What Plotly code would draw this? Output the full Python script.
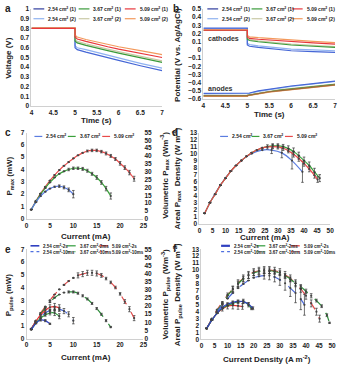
import plotly.graph_objects as go

W, H = 343, 368
FONT = "Liberation Sans"

# ---------------- data ----------------
# panel a: cell voltage vs time
a_time = [4.0, 5.0, 5.0, 5.05, 5.25, 5.5, 5.75, 6.0, 6.5, 7.0]
a_labels = ["2.54 cm<sup>2</sup> (1)", "3.67 cm<sup>2</sup> (1)", "5.09 cm<sup>2</sup> (1)",
            "2.54 cm<sup>2</sup> (2)", "3.67 cm<sup>2</sup> (2)", "5.09 cm<sup>2</sup> (2)"]
a_v_blue1 = [0.80, 0.80, 0.60, 0.58, 0.555, 0.525, 0.495, 0.47, 0.415, 0.365]
a_v_green1 = [0.80, 0.80, 0.67, 0.65, 0.625, 0.595, 0.57, 0.545, 0.495, 0.45]
a_v_red1 = [0.80, 0.80, 0.71, 0.69, 0.665, 0.635, 0.61, 0.585, 0.54, 0.50]
a_v_blue2 = [0.80, 0.80, 0.62, 0.60, 0.58, 0.55, 0.52, 0.495, 0.44, 0.39]
a_v_khaki2 = [0.80, 0.80, 0.685, 0.665, 0.64, 0.61, 0.585, 0.56, 0.51, 0.465]
a_v_orange2 = [0.805, 0.805, 0.73, 0.71, 0.685, 0.66, 0.635, 0.61, 0.57, 0.53]

# panel b: electrode potentials vs time
b_cat_blue1 = [0.265, 0.265, 0.06, 0.045, 0.03, 0.015, 0.0, -0.01, -0.02, -0.03]
b_cat_green1 = [0.24, 0.24, 0.13, 0.115, 0.10, 0.085, 0.07, 0.06, 0.045, 0.03]
b_cat_red1 = [0.24, 0.24, 0.155, 0.14, 0.13, 0.12, 0.11, 0.10, 0.085, 0.07]
b_cat_blue2 = [0.26, 0.26, 0.08, 0.065, 0.05, 0.035, 0.02, 0.01, 0.0, -0.01]
b_cat_khaki2 = [0.24, 0.24, 0.14, 0.125, 0.11, 0.095, 0.08, 0.07, 0.055, 0.04]
b_cat_orange2 = [0.245, 0.245, 0.175, 0.16, 0.15, 0.14, 0.13, 0.12, 0.105, 0.09]
b_an_blue1 = [-0.53, -0.53, -0.53, -0.525, -0.50, -0.48, -0.46, -0.44, -0.41, -0.38]
b_an_green1 = [-0.56, -0.56, -0.555, -0.55, -0.53, -0.51, -0.49, -0.475, -0.445, -0.42]
b_an_red1 = [-0.56, -0.56, -0.555, -0.55, -0.53, -0.51, -0.495, -0.48, -0.45, -0.425]
b_an_blue2 = [-0.535, -0.535, -0.535, -0.53, -0.505, -0.485, -0.465, -0.445, -0.415, -0.385]
b_an_khaki2 = [-0.555, -0.555, -0.55, -0.545, -0.525, -0.505, -0.485, -0.47, -0.44, -0.415]
b_an_orange2 = [-0.565, -0.565, -0.56, -0.555, -0.535, -0.515, -0.50, -0.485, -0.455, -0.43]

# panel c: Pmax vs current
c_labels = ["2.54 cm<sup>2</sup>", "3.67 cm<sup>2</sup>", "5.09 cm<sup>2</sup>"]
c_blue_x = [1, 2, 3, 4, 5, 6, 7, 8, 9, 10]
c_blue_y = [0.75, 1.35, 1.85, 2.2, 2.45, 2.6, 2.65, 2.55, 2.35, 2.0]
c_blue_e = [0, 0, 0, 0, 0, 0.05, 0.1, 0.12, 0.15, 0.3]
c_green_x = list(range(1, 19))
c_green_y = [0.75, 1.4, 2.0, 2.5, 2.95, 3.35, 3.65, 3.85, 4.0, 4.1, 4.1, 4.05, 3.9, 3.65, 3.35, 2.95, 2.45, 1.85]
c_green_e = [0, 0, 0, 0, 0, 0, 0, 0, 0.1, 0.1, 0.1, 0.12, 0.12, 0.12, 0.15, 0.15, 0.18, 0.25]
c_red_x = list(range(1, 24))
c_red_y = [0.75, 1.45, 2.05, 2.6, 3.1, 3.55, 3.95, 4.3, 4.6, 4.9, 5.15, 5.35, 5.5, 5.55, 5.55,
           5.45, 5.3, 5.1, 4.85, 4.5, 4.15, 3.75, 3.25]
c_red_e = [0, 0, 0, 0, 0, 0, 0, 0, 0, 0, 0, 0, 0.08, 0.1, 0.1, 0.1, 0.12, 0.12, 0.12, 0.15, 0.15, 0.18, 0.2]

# panel d: areal Pmax density vs current density
d_blue_x = [2, 4, 8, 12, 16, 20, 24, 27.6, 31.5, 35.4, 39.4]
d_blue_y = [1.5, 3.0, 5.5, 7.5, 9.0, 10.0, 10.5, 10.5, 10.1, 9.0, 7.4]
d_blue_e = [0, 0, 0, 0, 0, 0, 0, 0.5, 0.7, 1.2, 1.5]
d_green_x = [2, 4, 6, 8, 10, 12, 14, 16, 18, 20, 22, 24, 26, 28, 30, 32, 34, 36, 38, 40, 42, 44, 46]
d_green_y = [1.5, 3.0, 4.2, 5.5, 6.5, 7.5, 8.3, 9.0, 9.6, 10.1, 10.5, 10.8, 11.0, 11.1, 11.1, 11.0,
             10.7, 10.3, 9.7, 9.0, 8.3, 7.4, 6.5]
d_green_e = [0, 0, 0, 0, 0, 0, 0, 0, 0, 0, 0, 0, 0, 0.3, 0.3, 0.3, 0.4, 0.5, 0.5, 0.5, 0.5, 0.5, 0.5]
d_red_x = [2, 4, 6, 8, 10, 12, 14, 16, 18, 20, 22, 24, 26, 28, 30, 32, 34, 36, 38, 40, 42, 44, 45.2]
d_red_y = [1.5, 3.0, 4.2, 5.5, 6.5, 7.5, 8.3, 9.0, 9.6, 10.1, 10.5, 10.8, 10.95, 11.0, 10.95, 10.75,
           10.4, 9.9, 9.3, 8.6, 7.8, 6.9, 6.3]
d_red_e = [0, 0, 0, 0, 0, 0, 0, 0, 0, 0, 0, 0, 0.3, 0.3, 0.3, 0.3, 0.3, 0.4, 0.4, 0.4, 0.4, 0.4, 0.4]

# panel e: Ppulse vs current
e_labels = ["2.54 cm<sup>2</sup>-2s", "3.67 cm<sup>2</sup>-2ms", "5.09 cm<sup>2</sup>-2s",
            "2.54 cm<sup>2</sup>-10ms", "3.67 cm<sup>2</sup>-10ms", "5.09 cm<sup>2</sup>-10ms"]
e_b2_x = [1, 2, 3, 4, 5]
e_b2_y = [0.7, 1.2, 1.45, 1.4, 1.15]
e_b2_e = [0, 0.05, 0.08, 0.08, 0.05]
e_g2_x = [1, 2, 3, 4, 5, 6, 7]
e_g2_y = [0.7, 1.2, 1.6, 1.85, 2.0, 2.0, 1.75]
e_g2_e = [0, 0, 0, 0.1, 0.15, 0.2, 0.2]
e_r2_x = [1, 2, 3, 4, 5, 6, 7]
e_r2_y = [0.75, 1.35, 1.85, 2.2, 2.45, 2.5, 2.4]
e_r2_e = [0, 0, 0, 0.1, 0.2, 0.25, 0.25]
e_b10_x = [1, 2, 3, 4, 5, 6, 7, 8, 9, 10]
e_b10_y = [0.75, 1.3, 1.7, 2.0, 2.2, 2.3, 2.3, 2.15, 1.9, 1.4]
e_b10_e = [0, 0, 0, 0, 0.1, 0.15, 0.15, 0.2, 0.2, 0.25]
e_g10_x = list(range(1, 19))
e_g10_y = [0.75, 1.35, 1.9, 2.4, 2.85, 3.2, 3.45, 3.6, 3.65, 3.65, 3.55, 3.35, 3.1, 2.75, 2.35, 1.9, 1.4, 0.9]
e_g10_e = [0, 0, 0, 0, 0, 0, 0, 0, 0.08, 0.08, 0.08, 0.08, 0.08, 0.08, 0.08, 0.08, 0.08, 0.05]
e_r10_x = list(range(1, 24))
e_r10_y = [0.75, 1.4, 2.0, 2.5, 3.0, 3.45, 3.85, 4.2, 4.5, 4.75, 4.95, 5.05, 5.15, 5.15, 5.1, 4.95,
           4.7, 4.4, 4.0, 3.5, 2.9, 2.3, 1.6]
e_r10_e = [0, 0, 0, 0, 0, 0, 0, 0, 0, 0, 0.2, 0.2, 0.2, 0.2, 0.2, 0.15, 0.1, 0.1, 0.1, 0.1, 0.15, 0.2, 0.2]

# panel f: areal Ppulse density vs current density
f_b2_x = [2, 4, 6, 8, 10, 12, 14, 16, 18, 19.7]
f_b2_y = [1.6, 2.8, 3.8, 4.6, 5.1, 5.35, 5.5, 5.45, 5.1, 4.5]
f_b2_e = [0, 0, 0, 0, 0.2, 0.2, 0.2, 0.2, 0.2, 0.2]
f_g2_x = [2, 4, 6, 8, 10, 12, 14, 16, 18, 19.1]
f_g2_y = [1.6, 2.8, 3.8, 4.5, 4.9, 5.2, 5.4, 5.5, 5.0, 4.5]
f_g2_e = [0, 0, 0, 0, 0, 0.2, 0.2, 0.3, 0.3, 0.2]
f_r2_x = [2, 4, 6, 8, 10, 12, 14, 15.7]
f_r2_y = [1.6, 2.8, 3.8, 4.4, 4.8, 4.9, 4.85, 4.75]
f_r2_e = [0, 0, 0, 0.3, 0.4, 0.5, 0.5, 0.4]
f_b10_x = [2, 4, 6, 8, 10, 12, 14, 16, 18, 20, 22, 24, 26, 28, 30, 32, 34, 36, 38, 39.4]
f_b10_y = [1.6, 2.9, 4.0, 5.0, 5.9, 6.7, 7.4, 8.0, 8.5, 8.9, 9.1, 9.2, 9.2, 9.0, 8.6, 8.1, 7.4, 6.7, 5.8, 5.0]
f_b10_e = [0, 0, 0, 0, 0, 0, 0, 0, 0, 0, 0, 0.5, 0.6, 0.7, 0.8, 1.0, 1.2, 1.4, 1.5, 1.5]
f_g10_x = [2, 4, 6, 8, 10, 12, 14, 16, 18, 20, 22, 24, 26, 28, 30, 32, 34, 36, 38, 40, 42, 44, 46, 48, 49]
f_g10_y = [1.6, 2.9, 4.1, 5.2, 6.3, 7.2, 8.0, 8.7, 9.2, 9.6, 9.8, 9.9, 9.9, 9.8, 9.6, 9.2, 8.7, 8.1,
           7.6, 6.95, 6.3, 5.6, 4.8, 3.5, 2.4]
f_g10_e = [0, 0, 0, 0, 0.4, 0.4, 0.4, 0.4, 0.4, 0.4, 0.4, 0.4, 0.4, 0.3, 0.3, 0.3, 0.3, 0.3, 0.3,
           0.3, 0.3, 0.2, 0.2, 0.2, 0.1]
f_r10_x = [2, 4, 6, 8, 10, 12, 14, 16, 18, 20, 22, 24, 26, 28, 30, 32, 34, 36, 38, 40, 42, 44, 45.2]
f_r10_y = [1.6, 3.0, 4.3, 5.4, 6.4, 7.3, 8.1, 8.8, 9.3, 9.7, 9.9, 10.0, 10.0, 9.9, 9.7, 9.3, 8.8,
           8.1, 7.3, 6.3, 5.2, 4.0, 3.0]
f_r10_e = [0, 0, 0, 0, 0, 0.4, 0.5, 0.5, 0.5, 0.5, 0.5, 0.5, 0.5, 0.5, 0.5, 0.5, 0.5, 0.5, 0.5,
           0.5, 0.5, 0.5, 0.5]

# ---------------- styling ----------------
C_BLUE1, C_GREEN1, C_RED1 = "#4566d6", "#3a9a3a", "#e8373c"
C_BLUE2, C_KHAKI2, C_ORANGE2 = "#8fb2f0", "#c9c9a6", "#f39a5c"
LEG_BLUE1 = "#2f3c9e"
C_C = ["#5b7de0", "#3aa03a", "#e84a4a"]
E_COL = ["#3040c0", "#2e9a3a", "#e83030", "#5070e0", "#8cc88c", "#f07080"]
E_DASH = ["solid", "solid", "solid", "dash", "dash", "dash"]
E_LINE = ["#3040c0", "#2e9a3a", "#e83030", "#4a68d8", "#2e8b3a", "#e04a4a"]


def px(x):
    return x / W


def py(y):
    return 1 - y / H


fig = go.Figure()


def line(x, y, color, xa, ya, width=1.2, dash="solid"):
    fig.add_trace(go.Scatter(x=x, y=y, mode="lines", xaxis=xa, yaxis=ya,
                             line=dict(color=color, width=width, dash=dash),
                             showlegend=False, hoverinfo="skip"))


def errline(x, y, e, color, xa, ya, dash="solid", width=1.2):
    fig.add_trace(go.Scatter(x=x, y=y, mode="lines+markers", xaxis=xa, yaxis=ya,
                             line=dict(color=color, width=width, dash=dash, shape="spline", smoothing=0.6),
                             marker=dict(size=2.2, color="#444"),
                             error_y=dict(type="data", array=e, color="#333", thickness=0.7, width=1.3),
                             showlegend=False, hoverinfo="skip"))


# panel a
for ys, col in [(a_v_blue2, C_BLUE2), (a_v_blue1, C_BLUE1), (a_v_khaki2, C_KHAKI2),
                (a_v_green1, C_GREEN1), (a_v_orange2, C_ORANGE2), (a_v_red1, C_RED1)]:
    line(a_time, ys, col, "x", "y")

# panel b
for ys, col in [(b_cat_blue2, C_BLUE2), (b_cat_blue1, C_BLUE1), (b_cat_khaki2, C_KHAKI2),
                (b_cat_green1, C_GREEN1), (b_cat_orange2, C_ORANGE2), (b_cat_red1, C_RED1),
                (b_an_blue2, C_BLUE2), (b_an_blue1, C_BLUE1), (b_an_khaki2, C_KHAKI2),
                (b_an_green1, C_GREEN1), (b_an_orange2, C_ORANGE2), (b_an_red1, "#9a6a3a")]:
    line(a_time, ys, col, "x2", "y2")

# panel c
errline(c_red_x, c_red_y, c_red_e, C_C[2], "x3", "y3")
errline(c_green_x, c_green_y, c_green_e, C_C[1], "x3", "y3")
errline(c_blue_x, c_blue_y, c_blue_e, C_C[0], "x3", "y3")
fig.add_trace(go.Scatter(x=[None], y=[None], xaxis="x3", yaxis="y7", showlegend=False))

# panel d
errline(d_blue_x, d_blue_y, d_blue_e, C_C[0], "x4", "y4")
errline(d_green_x, d_green_y, d_green_e, C_C[1], "x4", "y4")
errline(d_red_x, d_red_y, d_red_e, C_C[2], "x4", "y4")

# panel e
e_series = [(e_b2_x, e_b2_y, e_b2_e), (e_g2_x, e_g2_y, e_g2_e), (e_r2_x, e_r2_y, e_r2_e),
            (e_b10_x, e_b10_y, e_b10_e), (e_g10_x, e_g10_y, e_g10_e), (e_r10_x, e_r10_y, e_r10_e)]
for i in [5, 4, 3, 2, 1, 0]:
    xs, ys, es = e_series[i]
    errline(xs, ys, es, E_LINE[i], "x5", "y5", dash=E_DASH[i])
fig.add_trace(go.Scatter(x=[None], y=[None], xaxis="x5", yaxis="y8", showlegend=False))

# panel f
f_series = [(f_b2_x, f_b2_y, f_b2_e), (f_g2_x, f_g2_y, f_g2_e), (f_r2_x, f_r2_y, f_r2_e),
            (f_b10_x, f_b10_y, f_b10_e), (f_g10_x, f_g10_y, f_g10_e), (f_r10_x, f_r10_y, f_r10_e)]
for i in [5, 4, 3, 2, 1, 0]:
    xs, ys, es = f_series[i]
    errline(xs, ys, es, E_LINE[i], "x6", "y6", dash=E_DASH[i])

# ---------------- axes ----------------
TF = dict(family=FONT, size=6.5, color="#222", weight="bold")


def ax(domain, rng, dtick, anchor, **kw):
    d = dict(domain=domain, range=rng, dtick=dtick, anchor=anchor, showgrid=False,
             zeroline=False, showline=True, linecolor="#d0d0d0", linewidth=1, ticks="",
             tickfont=TF, fixedrange=True)
    d.update(kw)
    return d


XC = [px(25), px(144)]
XL = [px(201), px(334)]
layout = dict(
    width=W, height=H, margin=dict(l=0, r=0, t=0, b=0),
    paper_bgcolor="white", plot_bgcolor="white", showlegend=False,
    font=dict(family=FONT, color="#222"),
    xaxis=ax([px(30), px(163)], [4, 7], 0.5, "y"),
    yaxis=ax([py(104), py(5)], [0, 1], 0.1, "x"),
    xaxis2=ax([px(205), px(339)], [4, 7], 0.5, "y2"),
    yaxis2=ax([py(97), py(5)], [-0.6, 0.5], 0.1, "x2"),
    xaxis3=ax(XC, [0, 25], 5, "y3"),
    yaxis3=ax([py(219), py(131)], [0, 7], 1, "x3"),
    xaxis4=ax(XL, [0, 50], 5, "y4"),
    yaxis4=ax([py(224), py(131)], [0, 13], 1, "x4"),
    xaxis5=ax(XC, [0, 25], 5, "y5"),
    yaxis5=ax([py(341), py(250)], [0, 7], 1, "x5"),
    xaxis6=ax([px(203), px(336)], [0, 50], 5, "y6"),
    yaxis6=ax([py(342), py(250)], [0, 13], 1, "x6"),
    yaxis7=ax([py(219), py(131)], [0, 55], 5, "x3", overlaying="y3", side="right", showline=False),
    yaxis8=ax([py(341), py(250)], [0, 55], 5, "x5", overlaying="y5", side="right", showline=False),
)
fig.update_layout(**layout)

# ---------------- annotations ----------------
ann = []
shapes = []


def text(x, y, s, size=7.5, bold=True, angle=0, xanchor="center", color="#222"):
    ann.append(dict(x=px(x), y=py(y), xref="paper", yref="paper", text=s, showarrow=False,
                    textangle=angle, xanchor=xanchor, yanchor="middle",
                    font=dict(family=FONT, size=size, color=color, weight="bold" if bold else "normal")))


# panel letters
for lx, ly, s in [(6, 5, "a"), (177, 5, "b"), (6, 131, "c"), (176, 131, "d"), (6, 250, "e"), (176, 249, "f")]:
    text(lx, ly, s, size=10)

# axis titles
text(96, 119, "Time (s)", 8)
text(272, 113, "Time (s)", 8)
text(85, 237, "Current (mA)", 8)
text(268, 238, "Current (mA)", 8)
text(85, 360, "Current (mA)", 8)
text(270, 362, "Current Density (A m<sup>-2</sup>)", 8)
text(7, 55, "Voltage (V)", 8, angle=-90)
text(178, 52, "Potential (V vs. Ag/AgCl)", 8, angle=-90)
text(8, 175, "P<sub>max</sub> (mW)", 8, angle=-90)
text(166, 175, "Volumetric P<sub>max</sub> (Wm<sup>-3</sup>)", 8, angle=-90)
text(178, 178, "Areal P<sub>max</sub>  Density (W m<sup>-2</sup>)", 8, angle=-90)
text(8, 296, "P<sub>pulse</sub> (mW)", 8, angle=-90)
text(166, 296, "Volumetric P<sub>pulse</sub> (Wm<sup>-3</sup>)", 8, angle=-90)
text(178, 296, "Areal P<sub>pulse</sub> Density (W m<sup>-2</sup>)", 8, angle=-90)

# b annotations in data coords
for x, y, s in [(4.45, 0.14, "cathodes"), (4.4, -0.47, "anodes")]:
    ann.append(dict(x=x, y=y, xref="x2", yref="y2", text=s, showarrow=False,
                    font=dict(family=FONT, size=7, color="#333", weight="bold")))


def legend(cols, rows, labels, colors, dashes=None, seg=11, size=5, widths=None):
    k = 0
    for r in rows:
        for c in cols:
            if k >= len(labels):
                return
            dash = dashes[k] if dashes else "solid"
            w = widths[k] if widths else 1.2
            shapes.append(dict(type="line", xref="paper", yref="paper",
                               x0=px(c), x1=px(c + seg), y0=py(r), y1=py(r),
                               line=dict(color=colors[k], width=w, dash=dash)))
            text(c + seg + 2, r, labels[k], size=size, bold=True, xanchor="left")
            k += 1


legend([32, 78, 125], [5, 15], a_labels, [LEG_BLUE1, C_GREEN1, C_RED1, C_BLUE2, C_KHAKI2, C_ORANGE2])
legend([209, 254, 295], [5, 15], a_labels, [LEG_BLUE1, C_GREEN1, C_RED1, C_BLUE2, C_KHAKI2, C_ORANGE2])
legend([33, 67, 102], [135], c_labels, C_C, seg=8)
legend([222, 254, 288], [135], c_labels, C_C, seg=8)
legend([29, 66, 99], [246.5, 252.5], e_labels, E_COL, dashes=["solid"] * 3 + ["dot"] * 3, seg=9, size=4.5,
       widths=[1.6, 1.2, 1.2, 1.2, 1.2, 1.2])
legend([223, 259, 294], [246.5, 252.5], e_labels, E_COL, dashes=["solid"] * 3 + ["dot"] * 3, seg=9, size=4.5,
       widths=[2.2, 1.2, 1.2, 1.2, 1.2, 1.2])

fig.update_layout(annotations=ann, shapes=shapes)
fig.write_html("out.html")
